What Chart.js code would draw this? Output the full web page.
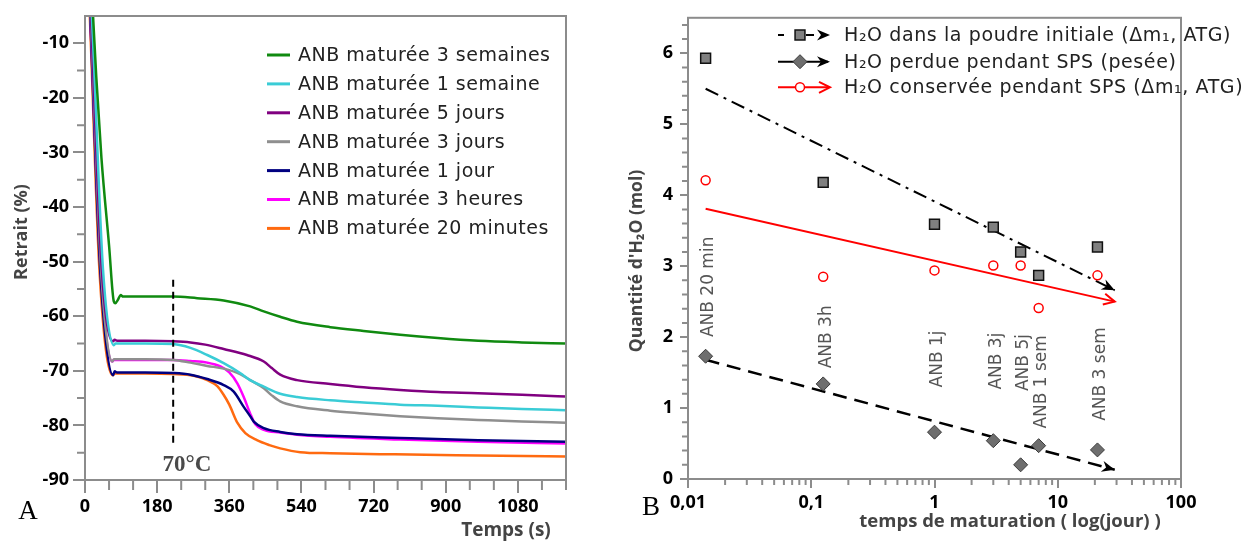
<!DOCTYPE html>
<html>
<head>
<meta charset="utf-8">
<script src="https://cdn.jsdelivr.net/npm/chart.js@4"></script>
<style>
  html, body { margin: 0; padding: 0; background: #fff; }
  #wrap { position: relative; width: 1251px; height: 541px; }
  #chartA { position: absolute; left: 0; top: 0; }
  #chartB { position: absolute; left: 620px; top: 0; }
</style>
</head>
<body>
<div id="wrap">
  <canvas id="chartA" width="620" height="541"></canvas>
  <canvas id="chartB" width="631" height="541"></canvas>
</div>
<script>
// ---------- Figure A : retrait en fonction du temps ----------
const xTicksA = [0, 180, 360, 540, 720, 900, 1080];
const yTicksA = [-90, -80, -70, -60, -50, -40, -30, -20, -10];

const t3sem = [18, 28, 41, 60, 72, 76, 82, 89, 95, 150, 220, 280, 346, 412, 446, 487, 529, 612, 695, 786, 880, 981, 1090, 1200];
const r3sem = [-2, -16, -31, -47, -57.3, -57.6, -57.0, -56.1, -56.4, -56.4, -56.4, -56.7, -57.1, -58.2, -59.1, -60.1, -61.0, -62.0, -62.7, -63.4, -64.0, -64.5, -64.8, -65.0];
const t1sem = [13, 17, 45, 72, 76, 150, 220, 263, 305, 346, 387, 412, 446, 487, 529, 612, 695, 786, 880, 981, 1090, 1200];
const r1sem = [0, -5, -51.5, -65.3, -65.0, -65.0, -65.1, -65.8, -67.1, -68.6, -70.4, -71.7, -72.9, -74.2, -74.8, -75.4, -75.8, -76.2, -76.4, -76.7, -77.0, -77.2];
const t5j = [12, 15, 42, 70, 74, 80, 150, 220, 263, 300, 346, 404, 446, 466, 487, 529, 612, 695, 786, 880, 981, 1090, 1200];
const r5j = [0, -5, -51.5, -64.6, -64.3, -64.5, -64.5, -64.6, -64.8, -65.2, -66.0, -67.1, -68.3, -69.5, -70.7, -71.7, -72.4, -73.0, -73.5, -73.9, -74.1, -74.4, -74.7];
const t3j = [11, 14, 40, 68, 72, 150, 220, 263, 305, 346, 387, 412, 446, 466, 487, 529, 612, 695, 786, 880, 981, 1090, 1200];
const r3j = [0, -5, -51.5, -68.3, -67.9, -67.9, -68.0, -68.5, -69.1, -69.6, -70.6, -71.7, -73.2, -74.5, -75.6, -76.5, -77.3, -77.8, -78.3, -78.7, -79.0, -79.3, -79.5];
const t1j = [10, 13, 38, 70, 74, 80, 150, 220, 263, 305, 346, 371, 396, 412, 421, 446, 487, 529, 612, 786, 981, 1200];
const r1j = [0, -5, -51.5, -70.8, -70.1, -70.3, -70.3, -70.4, -70.7, -71.5, -72.6, -73.8, -76.6, -78.3, -79.3, -80.5, -81.2, -81.6, -81.9, -82.3, -82.7, -83.0];
const t3h = [10, 13, 39, 68, 72, 150, 220, 263, 305, 338, 360, 380, 396, 412, 425, 446, 487, 529, 612, 786, 981, 1200];
const r3h = [0, -5, -51.5, -68.3, -68.0, -68.0, -68.0, -68.2, -68.5, -69.2, -70.3, -72.3, -74.8, -77.8, -79.8, -80.8, -81.3, -81.7, -82.1, -82.6, -83.0, -83.3];
const t20min = [9, 12, 36, 69, 75, 150, 220, 271, 305, 330, 345, 360, 380, 400, 429, 460, 487, 537, 612, 773, 981, 1200];
const r20min = [0, -5, -51.5, -70.8, -70.5, -70.5, -70.6, -70.9, -71.7, -72.8, -74.3, -76.2, -79.5, -81.4, -82.7, -83.6, -84.2, -84.9, -85.1, -85.3, -85.5, -85.7];

// ---------- Figure B : quantité d'eau vs temps de maturation ----------
const xTicksB = [0.01, 0.1, 1, 10, 100];
const yTicksB = [0, 1, 2, 3, 4, 5, 6];
const joursMaturation = [0.0139, 0.125, 1, 3, 5, 7, 21];
const eauInitiale = [5.93, 4.18, 3.59, 3.55, 3.20, 2.87, 3.27];
const eauPerdue = [1.73, 1.34, 0.66, 0.54, 0.20, 0.47, 0.41];
const eauConservee = [4.21, 2.85, 2.94, 3.01, 3.01, 2.41, 2.87];
const joursTendance = [0.0139, 29];
const tendInitiale = [5.50, 2.66];
const tendPerdue = [1.68, 0.13];
const tendConservee = [3.81, 2.50];
const nomsEchantillons = ["ANB 20 min", "ANB 3h", "ANB 1j", "ANB 3j", "ANB 5j", "ANB 1 sem", "ANB 3 sem"];
const hauteurNoms = [2.0, 1.56, 1.29, 1.26, 1.24, 0.71, 0.82];

const GRAY = "#8c8c8c";
const TXT = "#222";
const tickFont = { family: "Open Sans", weight: "bold", size: 18 };

const pts = (xs, ys) => xs.map((x, i) => ({ x, y: ys[i] }));

const seriesA = [
  { label: "ANB maturée 3 semaines", t: t3sem, r: r3sem, color: "#108a10" },
  { label: "ANB maturée 1 semaine", t: t1sem, r: r1sem, color: "#3accd6" },
  { label: "ANB maturée 5 jours", t: t5j, r: r5j, color: "#800080" },
  { label: "ANB maturée 3 jours", t: t3j, r: r3j, color: "#8f8f8f" },
  { label: "ANB maturée 1 jour", t: t1j, r: r1j, color: "#000080" },
  { label: "ANB maturée 3 heures", t: t3h, r: r3h, color: "#ff00ff" },
  { label: "ANB maturée 20 minutes", t: t20min, r: r20min, color: "#ff6a10" }
];

function minorTicks(ctx, scale, values, len, horizontal) {
  ctx.beginPath();
  values.forEach(v => {
    const p = scale.getPixelForValue(v);
    if (horizontal) { ctx.moveTo(p, scale.top); ctx.lineTo(p, scale.top + len); }
    else { ctx.moveTo(scale.right, p); ctx.lineTo(scale.right - len, p); }
  });
  ctx.stroke();
}

function vText(ctx, text, x, y) {
  ctx.save();
  ctx.translate(x, y);
  ctx.rotate(-Math.PI / 2);
  ctx.fillText(text, 0, 0);
  ctx.restore();
}

function arrowHead(ctx, x, y, ang, color, filled) {
  ctx.save();
  ctx.translate(x, y);
  ctx.rotate(ang);
  ctx.setLineDash([]);
  if (filled) {
    ctx.fillStyle = color;
    ctx.beginPath();
    ctx.moveTo(0, 0); ctx.lineTo(-13, -5.5); ctx.lineTo(-9, 0); ctx.lineTo(-13, 5.5);
    ctx.closePath();
    ctx.fill();
  } else {
    ctx.strokeStyle = color;
    ctx.lineWidth = 2;
    ctx.beginPath();
    ctx.moveTo(-11, -5.5); ctx.lineTo(0, 0); ctx.lineTo(-11, 5.5);
    ctx.stroke();
  }
  ctx.restore();
}

function drawMarker(ctx, style, x, y, r) {
  if (style === "rect") {
    const s = r * Math.SQRT1_2;
    ctx.rect(x - s, y - s, 2 * s, 2 * s);
  } else if (style === "rectRot") {
    ctx.moveTo(x, y - r); ctx.lineTo(x + r, y); ctx.lineTo(x, y + r); ctx.lineTo(x - r, y); ctx.closePath();
  } else {
    ctx.arc(x, y, r, 0, Math.PI * 2);
  }
}

const decorA = {
  id: "decorA",
  afterDraw(chart) {
    const { ctx, chartArea: a, scales: { x, y } } = chart;
    ctx.save();
    ctx.strokeStyle = GRAY;
    ctx.lineWidth = 2;
    ctx.strokeRect(a.left, a.top, a.right - a.left, a.bottom - a.top);
    const mx = [];
    for (let v = 60; v <= 1200; v += 60) if (!xTicksA.includes(v)) mx.push(v);
    minorTicks(ctx, x, mx, 10, true);
    const my = [];
    for (let v = -85; v < -5; v += 10) my.push(v);
    minorTicks(ctx, y, my, 8, false);

    // ligne 70°C
    ctx.strokeStyle = "#000";
    ctx.setLineDash([7, 5]);
    ctx.beginPath();
    ctx.moveTo(x.getPixelForValue(220), y.getPixelForValue(-53.3));
    ctx.lineTo(x.getPixelForValue(220), y.getPixelForValue(-84));
    ctx.stroke();
    ctx.setLineDash([]);
    ctx.fillStyle = "#4a4a4a";
    ctx.font = "bold 23px 'Liberation Serif'";
    ctx.textAlign = "center";
    ctx.textBaseline = "middle";
    ctx.fillText("70°C", 187, 465);

    // légende
    ctx.font = "19px 'DejaVu Sans'";
    ctx.letterSpacing = "0.5px";
    ctx.textAlign = "left";
    chart.data.datasets.forEach((ds, i) => {
      const yy = 55 + i * 28.9;
      ctx.strokeStyle = ds.borderColor;
      ctx.lineWidth = 3;
      ctx.beginPath(); ctx.moveTo(267, yy); ctx.lineTo(290, yy); ctx.stroke();
      ctx.fillStyle = TXT;
      ctx.fillText(ds.label, 298, yy + 1);
    });
    ctx.letterSpacing = "0px";

    // titres
    ctx.fillStyle = "#444";
    ctx.font = "bold 18px 'Open Sans'";
    ctx.textAlign = "center";
    vText(ctx, "Retrait (%)", 22, 232);
    ctx.font = "bold 19px 'Open Sans'";
    ctx.fillText("Temps (s)", 506, 531);
    ctx.fillStyle = "#000";
    ctx.font = "27px 'Liberation Serif'";
    ctx.fillText("A", 28, 512);
    ctx.restore();
  }
};

new Chart(document.getElementById("chartA"), {
  type: "line",
  data: {
    datasets: seriesA.map(s => ({
      label: s.label,
      data: pts(s.t, s.r),
      borderColor: s.color,
      borderWidth: 2.5,
      pointRadius: 0,
      cubicInterpolationMode: "monotone",
      fill: false
    }))
  },
  options: {
    responsive: false,
    animation: false,
    events: [],
    layout: { padding: { top: 16, right: 54, left: 0, bottom: 0 } },
    plugins: { legend: { display: false }, tooltip: { enabled: false } },
    scales: {
      x: {
        type: "linear", min: 0, max: 1200,
        afterBuildTicks: s => { s.ticks = xTicksA.map(v => ({ value: v })); },
        afterFit: s => { s.height = 61; },
        grid: { drawOnChartArea: false, color: GRAY, lineWidth: 2, tickLength: 13 },
        border: { color: GRAY, width: 2 },
        ticks: { color: "#000", font: tickFont, padding: 3, maxRotation: 0, autoSkip: false,
          callback: v => String(v) }
      },
      y: {
        type: "linear", min: -90, max: -5,
        afterBuildTicks: s => { s.ticks = yTicksA.map(v => ({ value: v })); },
        afterFit: s => { s.width = 85; },
        grid: { drawOnChartArea: false, color: GRAY, lineWidth: 2, tickLength: 12 },
        border: { color: GRAY, width: 2 },
        ticks: { color: "#000", font: tickFont, padding: 4, callback: v => String(v) }
      }
    }
  },
  plugins: [decorA]
});

// ---------- Figure B ----------
const decorB = {
  id: "decorB",
  afterDatasetsDraw(chart) {
    const { ctx } = chart;
    chart.data.datasets.forEach((ds, i) => {
      if (!ds.arrow) return;
      const el = chart.getDatasetMeta(i).data;
      const p1 = el[el.length - 2], p2 = el[el.length - 1];
      arrowHead(ctx, p2.x, p2.y, Math.atan2(p2.y - p1.y, p2.x - p1.x), ds.borderColor, ds.arrow === "filled");
    });
  },
  afterDraw(chart) {
    const { ctx, chartArea: a, scales: { x, y } } = chart;
    ctx.save();
    ctx.strokeStyle = GRAY;
    ctx.lineWidth = 2;
    ctx.strokeRect(a.left, a.top, a.right - a.left, a.bottom - a.top);
    const mx = [];
    for (let d = 0.01; d < 100; d *= 10)
      for (let k = 2; k <= 9; k++) mx.push(d * k);
    minorTicks(ctx, x, mx, 6, true);
    const my = [];
    for (let v = 0.2; v < 6.45; v += 0.2) if (Math.abs(v - Math.round(v)) > 0.01) my.push(v);
    minorTicks(ctx, y, my, 6, false);

    // noms des échantillons
    ctx.fillStyle = "#555";
    ctx.font = "17px 'DejaVu Sans'";
    ctx.textAlign = "left";
    ctx.textBaseline = "middle";
    nomsEchantillons.forEach((n, i) => {
      vText(ctx, n, x.getPixelForValue(joursMaturation[i]) + 3, y.getPixelForValue(hauteurNoms[i]));
    });

    // légende
    const sets = chart.data.datasets;
    const rows = [
      { text: "H₂O dans la poudre initiale (Δm₁, ATG)", pt: sets[0], line: sets[3], y: 35 },
      { text: "H₂O perdue pendant SPS (pesée)", pt: sets[1], line: sets[4], y: 61.7 },
      { text: "H₂O conservée pendant SPS (Δm₁, ATG)", pt: sets[2], line: sets[5], y: 87.3 }
    ];
    rows.forEach((r, i) => {
      ctx.strokeStyle = r.line.borderColor;
      ctx.lineWidth = 2;
      if (i === 0) {
        ctx.beginPath(); ctx.moveTo(158, r.y); ctx.lineTo(164, r.y); ctx.moveTo(186, r.y); ctx.lineTo(194, r.y); ctx.stroke();
      } else {
        ctx.beginPath(); ctx.moveTo(158, r.y); ctx.lineTo(208, r.y); ctx.stroke();
      }
      arrowHead(ctx, 210, r.y, 0, r.line.borderColor, r.line.arrow === "filled");
      ctx.fillStyle = r.pt.backgroundColor;
      ctx.strokeStyle = r.pt.borderColor;
      ctx.lineWidth = r.pt.borderWidth;
      ctx.beginPath();
      drawMarker(ctx, r.pt.pointStyle, 180, r.y, r.pt.pointRadius);
      ctx.fill(); ctx.stroke();
      ctx.fillStyle = TXT;
      ctx.font = "19px 'DejaVu Sans'";
      ctx.letterSpacing = "0.6px";
      ctx.textAlign = "left";
      ctx.fillText(r.text, 224, r.y + 1);
      ctx.letterSpacing = "0px";
    });

    // titres
    ctx.fillStyle = "#444";
    ctx.font = "bold 17.5px 'Open Sans'";
    ctx.textAlign = "center";
    vText(ctx, "Quantité d'H₂O (mol)", 17, 261);
    ctx.font = "bold 18.5px 'Open Sans'";
    ctx.fillText("temps de maturation ( log(jour) )", 390, 522);
    ctx.fillStyle = "#000";
    ctx.font = "27px 'Liberation Serif'";
    ctx.fillText("B", 31, 508);
    ctx.restore();
  }
};

new Chart(document.getElementById("chartB"), {
  type: "scatter",
  data: {
    datasets: [
      { label: "H2O initiale", data: pts(joursMaturation, eauInitiale), pointStyle: "rect", pointRadius: 7,
        backgroundColor: "#808080", borderColor: "#111", borderWidth: 1.5 },
      { label: "H2O perdue", data: pts(joursMaturation, eauPerdue), pointStyle: "rectRot", pointRadius: 7,
        backgroundColor: "#6e6e6e", borderColor: "#3a3a3a", borderWidth: 1 },
      { label: "H2O conservée", data: pts(joursMaturation, eauConservee), pointStyle: "circle", pointRadius: 4.5,
        backgroundColor: "#fff", borderColor: "#ff0000", borderWidth: 1.5 },
      { label: "tendance initiale", data: pts(joursTendance, tendInitiale), showLine: true, pointRadius: 0,
        borderColor: "#000", borderWidth: 2, borderDash: [14, 6, 3, 6], arrow: "filled" },
      { label: "tendance perdue", data: pts(joursTendance, tendPerdue), showLine: true, pointRadius: 0,
        borderColor: "#000", borderWidth: 2.5, borderDash: [14, 8], arrow: "filled" },
      { label: "tendance conservée", data: pts(joursTendance, tendConservee), showLine: true, pointRadius: 0,
        borderColor: "#ff0000", borderWidth: 2, arrow: "open" }
    ]
  },
  options: {
    responsive: false,
    animation: false,
    events: [],
    layout: { padding: { top: 13, right: 70, left: 0, bottom: 0 } },
    plugins: { legend: { display: false }, tooltip: { enabled: false } },
    scales: {
      x: {
        type: "logarithmic", min: 0.01, max: 100,
        afterBuildTicks: s => { s.ticks = xTicksB.map(v => ({ value: v })); },
        afterFit: s => { s.height = 62; },
        grid: { drawOnChartArea: false, color: GRAY, lineWidth: 2, tickLength: 9 },
        border: { color: GRAY, width: 2 },
        ticks: { color: "#000", font: tickFont, padding: 4, maxRotation: 0, autoSkip: false,
          callback: v => String(v).replace(".", ",") }
      },
      y: {
        type: "linear", min: 0, max: 6.5,
        afterBuildTicks: s => { s.ticks = yTicksB.map(v => ({ value: v })); },
        afterFit: s => { s.width = 68; },
        grid: { drawOnChartArea: false, color: GRAY, lineWidth: 2, tickLength: 8 },
        border: { color: GRAY, width: 2 },
        ticks: { color: "#000", font: tickFont, padding: 7 }
      }
    }
  },
  plugins: [decorB]
});
</script>
</body>
</html>
